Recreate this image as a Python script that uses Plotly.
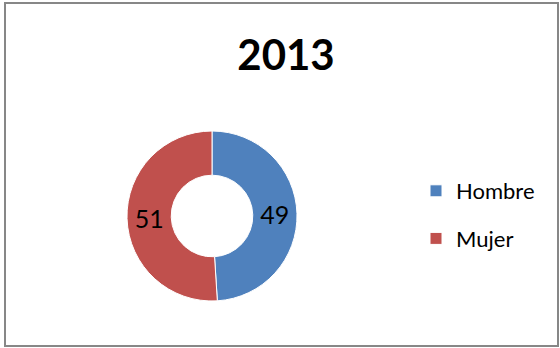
import plotly.graph_objects as go

# Share of people by sex, 2013
categories = ["Hombre", "Mujer"]
values = [49, 51]
colors = ["#4F81BD", "#C0504D"]
title_text = "2013"

W, H = 560, 348

fig = go.Figure()

# Donut
fig.add_trace(
    go.Pie(
        labels=categories,
        values=values,
        hole=0.48,
        sort=False,
        direction="clockwise",
        rotation=0,
        marker=dict(colors=colors, line=dict(color="white", width=1)),
        textinfo="value",
        textposition="inside",
        insidetextorientation="horizontal",
        textfont=dict(family="Lato", size=25, color="black"),
        domain=dict(x=[127 / W, 297 / W], y=[1 - 301 / H, 1 - 131 / H]),
        hoverinfo="label+value",
    )
)

# Blank grouped entry so that each slice gets its own legend group,
# letting tracegroupgap open up the space between the entries
fig.add_trace(
    go.Pie(
        labels=[" "],
        values=[1],
        legendgroup="spacer",
        marker=dict(colors=["rgba(0,0,0,0)"], line=dict(width=0)),
        textinfo="none",
        hoverinfo="skip",
        domain=dict(x=[0, 0.002], y=[0, 0.002]),
    )
)

fig.update_layout(
    width=W,
    height=H,
    margin=dict(l=0, r=0, t=0, b=0),
    paper_bgcolor="white",
    title=dict(
        text="<b>" + title_text + "</b>",
        x=286 / W,
        xanchor="center",
        y=1 - 55 / H,
        yanchor="middle",
        font=dict(family="Lato", size=42, color="black"),
    ),
    legend=dict(
        x=416 / W,
        xanchor="left",
        y=1 - 170 / H,
        yanchor="top",
        traceorder="grouped",
        tracegroupgap=16,
        font=dict(family="Lato", size=22, color="black"),
        bgcolor="rgba(0,0,0,0)",
    ),
    showlegend=True,
    shapes=[
        dict(
            type="rect",
            xref="paper",
            yref="paper",
            x0=5 / W,
            x1=558 / W,
            y0=1 - 346 / H,
            y1=1 - 3 / H,
            line=dict(color="#878787", width=2),
            fillcolor="rgba(0,0,0,0)",
        )
    ],
)

fig.write_html("out.html")
